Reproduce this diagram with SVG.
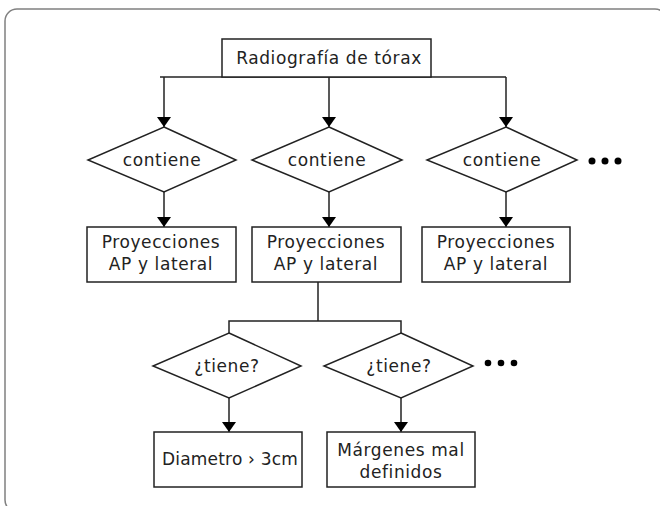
<svg xmlns="http://www.w3.org/2000/svg" width="660" height="506" viewBox="0 0 660 506">
<defs>
<marker id="ah" viewBox="0 0 10 14" refX="10" refY="7" markerWidth="10" markerHeight="14" markerUnits="userSpaceOnUse" orient="auto">
<path d="M0,0 L10,7 L0,14 Z" fill="#000"/>
</marker>
<style>
.box{fill:#fff;stroke:#222;stroke-width:1.5}
.t{font-family:"DejaVu Sans",sans-serif;font-size:17px;fill:#222;text-anchor:middle;letter-spacing:0.6px}
.ln{fill:none;stroke:#222;stroke-width:1.5}
.arr{fill:none;stroke:#222;stroke-width:1.5;marker-end:url(#ah)}
.dot{fill:#000}
</style>
</defs>
<rect x="5" y="9" width="662" height="503" rx="12" fill="none" stroke="#808080" stroke-width="1.5"/>
<g id="connectors">
<path class="ln" d="M160,77 H506"/>
<path class="arr" d="M164,77 V127"/>
<path class="arr" d="M329,77 V127"/>
<path class="arr" d="M506,77 V127"/>
<path class="arr" d="M164,192 V227"/>
<path class="arr" d="M329,192 V227"/>
<path class="arr" d="M506,192 V227"/>
<path class="ln" d="M318,282 V321 M229,333 V321 H401 V333"/>
<path class="arr" d="M229,398 V432"/>
<path class="arr" d="M401,398 V432"/>
</g>
<g id="root">
<rect class="box" x="222" y="39" width="209" height="38"/>
<text class="t" x="329" y="64">Radiografía de tórax</text>
</g>
<g id="d1">
<polygon class="box" points="164,127 236,160 164,192 88,160"/>
<text class="t" x="162" y="166">contiene</text>
</g>
<g id="d2">
<polygon class="box" points="329,127 402,160 329,192 252,160"/>
<text class="t" x="327" y="166">contiene</text>
</g>
<g id="d3">
<polygon class="box" points="506,127 577,160 506,192 427,160"/>
<text class="t" x="502" y="166">contiene</text>
</g>
<g id="more1">
<circle class="dot" cx="592" cy="161" r="3.5"/>
<circle class="dot" cx="605" cy="161" r="3.5"/>
<circle class="dot" cx="618" cy="161" r="3.5"/>
</g>
<g id="b1">
<rect class="box" x="87" y="227" width="149" height="55"/>
<text class="t" x="161" y="248">Proyecciones</text>
<text class="t" x="161" y="270">AP y lateral</text>
</g>
<g id="b2">
<rect class="box" x="252" y="227" width="149" height="55"/>
<text class="t" x="326" y="248">Proyecciones</text>
<text class="t" x="326" y="270">AP y lateral</text>
</g>
<g id="b3">
<rect class="box" x="422" y="227" width="148" height="55"/>
<text class="t" x="496" y="248">Proyecciones</text>
<text class="t" x="496" y="270">AP y lateral</text>
</g>
<g id="d4">
<polygon class="box" points="229,333 301,366 229,398 153,366"/>
<text class="t" x="227" y="372">¿tiene?</text>
</g>
<g id="d5">
<polygon class="box" points="401,333 473,366 401,398 324,366"/>
<text class="t" x="399" y="372">¿tiene?</text>
</g>
<g id="more2">
<circle class="dot" cx="488" cy="363" r="3.3"/>
<circle class="dot" cx="501" cy="363" r="3.3"/>
<circle class="dot" cx="514" cy="363" r="3.3"/>
</g>
<g id="b4">
<rect class="box" x="154" y="432" width="148" height="55"/>
<text class="t" x="230" y="465" style="letter-spacing:0.2px">Diametro › 3cm</text>
</g>
<g id="b5">
<rect class="box" x="327" y="432" width="148" height="55"/>
<text class="t" x="401" y="456">Márgenes mal</text>
<text class="t" x="401" y="478">definidos</text>
</g>
</svg>
